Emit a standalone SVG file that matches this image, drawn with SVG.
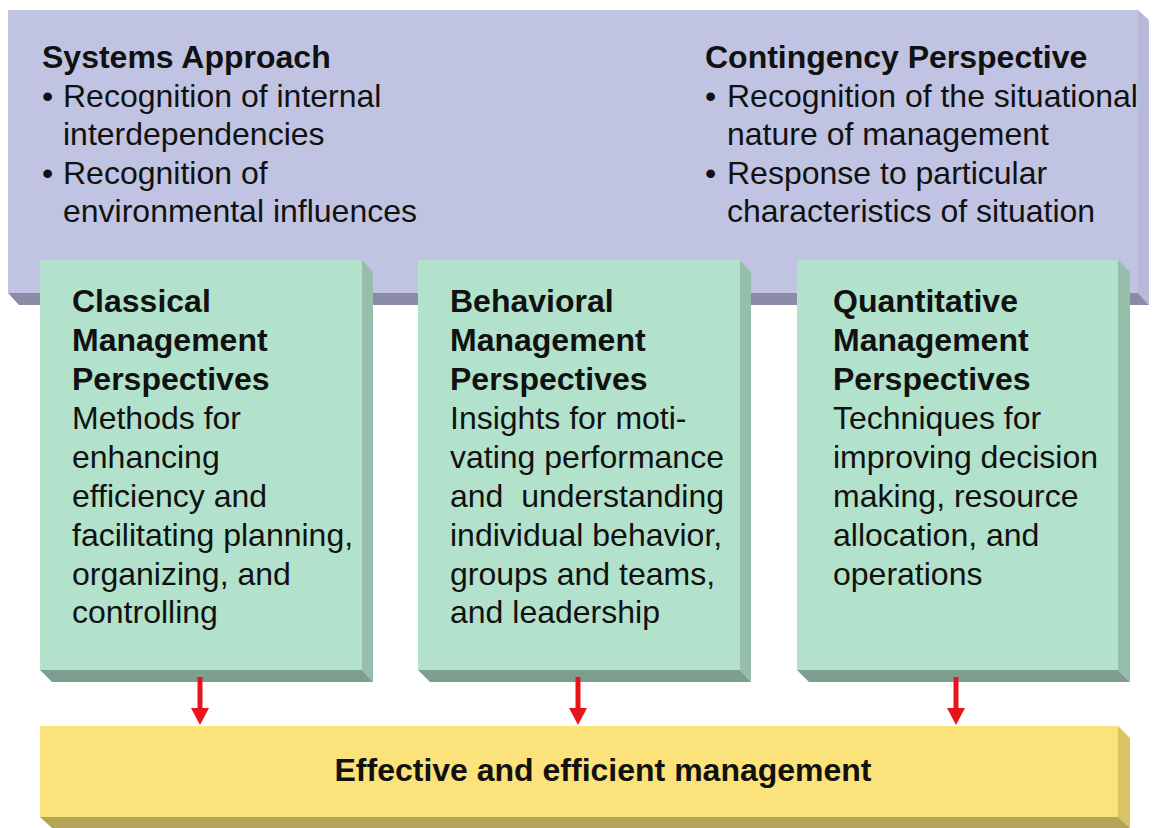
<svg xmlns="http://www.w3.org/2000/svg" width="1153" height="828" viewBox="0 0 1153 828">
<style>
text{font-family:"Liberation Sans",Arial,sans-serif;font-size:32px;fill:#111}
.b{font-weight:bold}
.arr{stroke:#E8141B;stroke-width:5}
.head{fill:#E8141B}
</style>
<rect width="1153" height="828" fill="#fff"/>
<g id="systems-contingency">
<rect x="8" y="10" width="1130" height="283" fill="#C0C4E2"/>
<polygon points="1138,10 1149,20 1149,305 1138,293" fill="#B6BAD8"/>
<polygon points="8,293 1138,293 1149,305 19,305" fill="#8A8CA6"/>
<text class="b" x="42" y="68">Systems Approach</text>
<text x="42" y="107">•</text><text x="63" y="107">Recognition of internal</text>
<text x="63" y="145">interdependencies</text>
<text x="42" y="184">•</text><text x="63" y="184">Recognition of</text>
<text x="63" y="222">environmental influences</text>
<text class="b" x="705" y="68">Contingency Perspective</text>
<text x="705" y="107">•</text><text x="727" y="107">Recognition of the situational</text>
<text x="727" y="145">nature of management</text>
<text x="705" y="184">•</text><text x="727" y="184">Response to particular</text>
<text x="727" y="222">characteristics of situation</text>
</g>
<g id="classical">
<rect x="40" y="260" width="322" height="410" fill="#B2E2CC"/>
<polygon points="362,260 373,272 373,682 362,670" fill="#96BEAA"/>
<polygon points="40,670 362,670 373,682 52,682" fill="#7E9F90"/>
<text class="b" x="72" y="312">Classical</text>
<text class="b" x="72" y="351">Management</text>
<text class="b" x="72" y="390">Perspectives</text>
<text x="72" y="429">Methods for</text>
<text x="72" y="468">enhancing</text>
<text x="72" y="507">efficiency and</text>
<text x="72" y="546">facilitating planning,</text>
<text x="72" y="585">organizing, and</text>
<text x="72" y="623">controlling</text>
</g>
<g id="behavioral">
<rect x="418" y="260" width="322" height="410" fill="#B2E2CC"/>
<polygon points="740,260 751,272 751,682 740,670" fill="#96BEAA"/>
<polygon points="418,670 740,670 751,682 430,682" fill="#7E9F90"/>
<text class="b" x="450" y="312">Behavioral</text>
<text class="b" x="450" y="351">Management</text>
<text class="b" x="450" y="390">Perspectives</text>
<text x="450" y="429">Insights for moti-</text>
<text x="450" y="468">vating performance</text>
<text x="450" y="507" xml:space="preserve">and  understanding</text>
<text x="450" y="546">individual behavior,</text>
<text x="450" y="585">groups and teams,</text>
<text x="450" y="623">and leadership</text>
</g>
<g id="quantitative">
<rect x="797" y="260" width="321" height="410" fill="#B2E2CC"/>
<polygon points="1118,260 1130,272 1130,682 1118,670" fill="#96BEAA"/>
<polygon points="797,670 1118,670 1130,682 809,682" fill="#7E9F90"/>
<text class="b" x="833" y="312">Quantitative</text>
<text class="b" x="833" y="351">Management</text>
<text class="b" x="833" y="390">Perspectives</text>
<text x="833" y="429">Techniques for</text>
<text x="833" y="468">improving decision</text>
<text x="833" y="507">making, resource</text>
<text x="833" y="546">allocation, and</text>
<text x="833" y="585">operations</text>
</g>
<g id="effective">
<rect x="40" y="726" width="1078" height="91" fill="#FCE27A"/>
<polygon points="1118,726 1130,738 1130,828 1118,817" fill="#D9C364"/>
<polygon points="40,817 1118,817 1130,828 52,828" fill="#B4A458"/>
<text class="b" x="603" y="781" text-anchor="middle">Effective and efficient management</text>
</g>
<g id="connectors">
<line class="arr" x1="200" y1="677" x2="200" y2="709"/>
<polygon class="head" points="191,708 209,708 200,725"/>
<line class="arr" x1="578" y1="677" x2="578" y2="709"/>
<polygon class="head" points="569,708 587,708 578,725"/>
<line class="arr" x1="956" y1="677" x2="956" y2="709"/>
<polygon class="head" points="947,708 965,708 956,725"/>
</g>
</svg>
